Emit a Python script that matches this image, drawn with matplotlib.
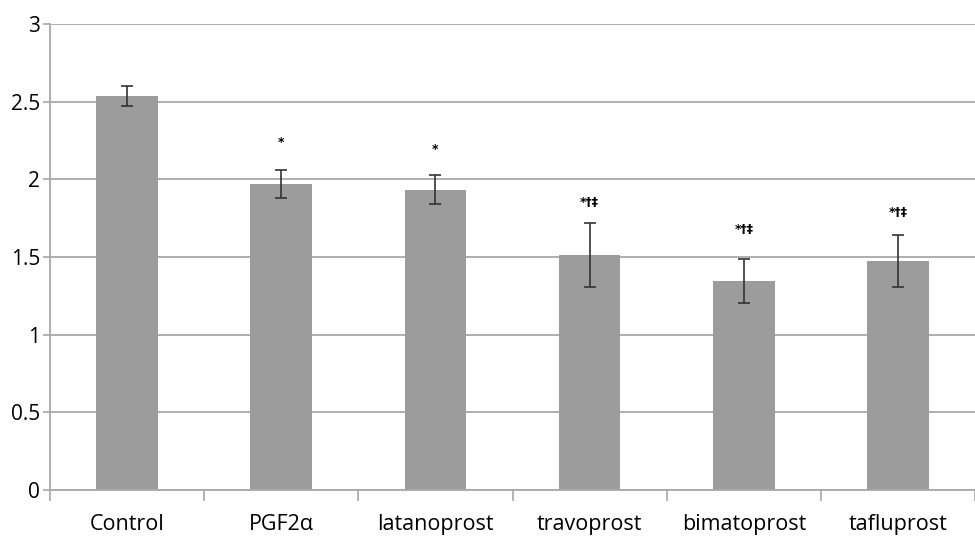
import matplotlib.pyplot as plt
import numpy as np

categories = ["Control", "PGF2\u03b1", "latanoprost", "travoprost", "bimatoprost", "tafluprost"]
means = [2.54, 1.97, 1.935, 1.515, 1.345, 1.475]
errors = [0.065, 0.09, 0.095, 0.205, 0.143, 0.168]
marks = ["", "*", "*", "*\u2020\u2021", "*\u2020\u2021", "*\u2020\u2021"]
mark_y = [None, 2.24, 2.19, 1.85, 1.68, 1.79]

plt.rcParams["font.family"] = ["Open Sans", "DejaVu Sans"]

fig = plt.figure(figsize=(9.75, 5.36), dpi=100)
ax = fig.add_axes([0.0513, 0.0858, 0.9487, 0.869])

x = np.arange(len(categories))
ax.bar(x, means, width=0.4, color="#9c9c9c", zorder=2)
ax.errorbar(x, means, yerr=errors, fmt="none", ecolor="#333333",
            elinewidth=1.2, capsize=4, capthick=1.2, zorder=3)

for xi, m, my in zip(x, marks, mark_y):
    if m:
        ax.text(xi, my, m, ha="center", va="center", fontsize=9,
                fontweight="bold", family=["DejaVu Sans"])

ax.set_xlim(-0.5, len(categories) - 0.5)
ax.set_ylim(0, 3)
ax.set_yticks(np.arange(0, 3.01, 0.5))
ax.set_yticklabels(["0", "0.5", "1", "1.5", "2", "2.5", "3"])
ax.yaxis.grid(True, color="#a8a8a8", linewidth=1.3, zorder=0)
ax.set_axisbelow(True)

ax.set_xticks(x)
ax.set_xticklabels(categories, fontsize=15.5)
ax.set_xticks(np.arange(-0.5, len(categories)), minor=True)
ax.tick_params(axis="x", which="major", length=0, pad=17)
ax.tick_params(axis="x", which="minor", length=8, color="#a8a8a8", width=1.2)
ax.tick_params(axis="y", length=5, color="#a8a8a8", width=1.2,
               labelsize=15, pad=2)

for side in ["top", "right"]:
    ax.spines[side].set_visible(False)
for side in ["left", "bottom"]:
    ax.spines[side].set_color("#a8a8a8")
    ax.spines[side].set_linewidth(1.3)

fig.savefig("out.png", dpi=100)
